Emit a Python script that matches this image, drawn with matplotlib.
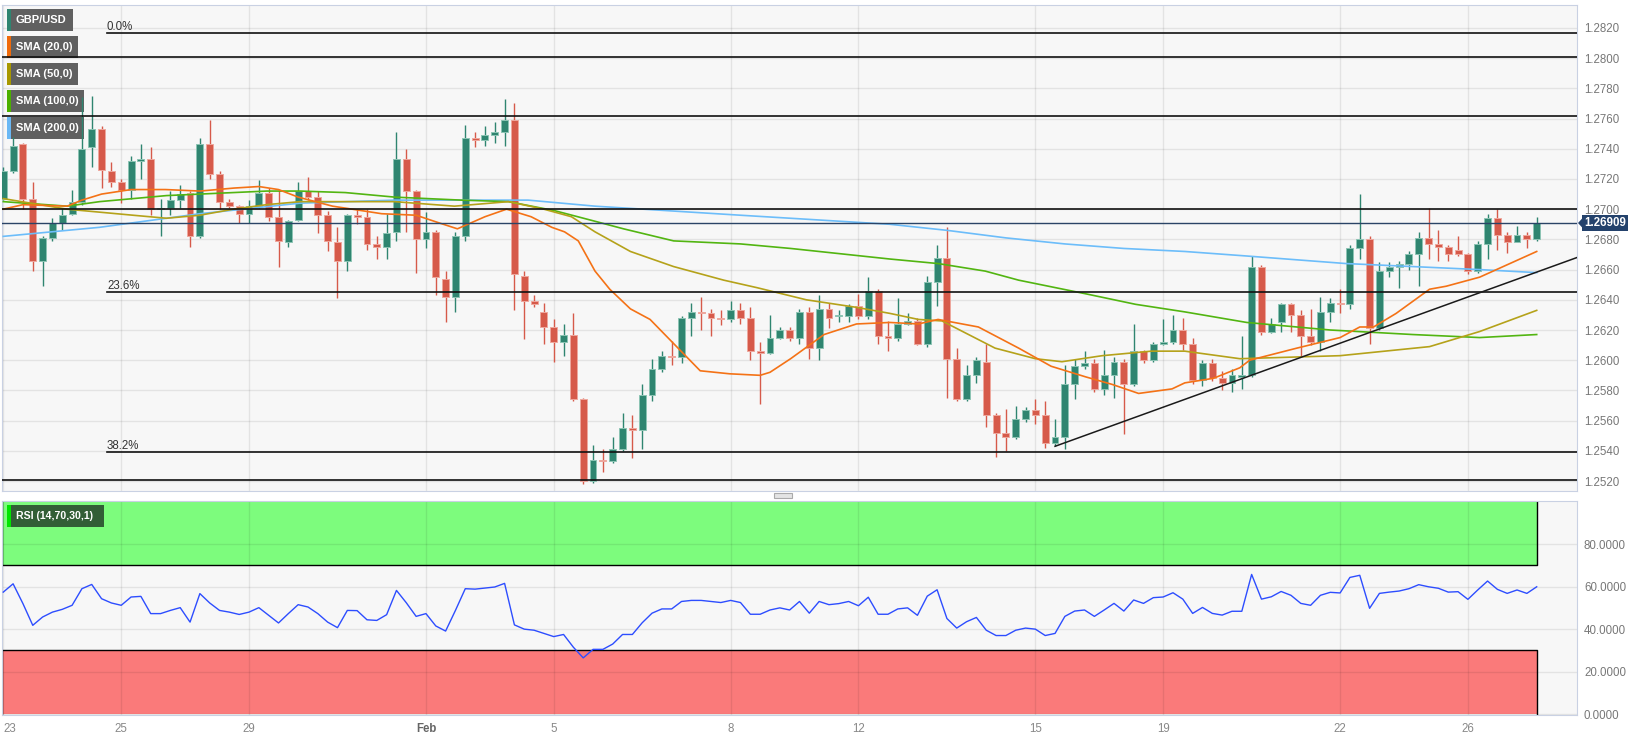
import matplotlib.pyplot as plt
from matplotlib.patches import Rectangle, Polygon

plt.rcParams["font.family"] = ["Liberation Sans", "DejaVu Sans"]

# ---- 4h candles, GBP/USD, 23 Jan -> 27 Feb ----
opens = [
    1.2707, 1.2725, 1.2743, 1.2707, 1.2666, 1.2681, 1.2691, 1.2697, 1.2705, 1.2741,
    1.2753, 1.2725, 1.2718, 1.2713, 1.2732, 1.2733, 1.2700, 1.2701, 1.2706, 1.2711,
    1.2682, 1.2743, 1.2723, 1.2705, 1.2702, 1.2697, 1.2702, 1.2711, 1.2695, 1.2678,
    1.2693, 1.2712, 1.2708, 1.2696, 1.2678, 1.2666, 1.2696, 1.2695, 1.2677, 1.2675,
    1.2685, 1.2733, 1.2712, 1.2680, 1.2685, 1.2654, 1.2642, 1.2682, 1.2747, 1.2746,
    1.2749, 1.2751, 1.2759, 1.2656, 1.2639, 1.2632, 1.2622, 1.2612, 1.2617, 1.2574,
    1.2520, 1.2534, 1.2533, 1.2541, 1.2555, 1.2554, 1.2577, 1.2594, 1.2603, 1.2602,
    1.2628, 1.2632, 1.2631, 1.2628, 1.2627, 1.2633, 1.2628, 1.2606, 1.2605, 1.2615,
    1.2620, 1.2615, 1.2632, 1.2608, 1.2634, 1.2629, 1.2629, 1.2636, 1.2629, 1.2646,
    1.2616, 1.2615, 1.2624, 1.2626, 1.2611, 1.2652, 1.2668, 1.2601, 1.2574, 1.2590,
    1.2599, 1.2564, 1.2552, 1.2549, 1.2561, 1.2567, 1.2564, 1.2545, 1.2549, 1.2584,
    1.2596, 1.2598, 1.2581, 1.2590, 1.2599, 1.2584, 1.2606, 1.2600, 1.2611, 1.2612,
    1.2620, 1.2611, 1.2587, 1.2598, 1.2588, 1.2585, 1.2589, 1.2590, 1.2662, 1.2619,
    1.2625, 1.2637, 1.2630, 1.2616, 1.2612, 1.2632, 1.2638, 1.2637, 1.2674, 1.2680,
    1.2621, 1.2659, 1.2662, 1.2664, 1.2670, 1.2681, 1.2677, 1.2675, 1.2673, 1.2670,
    1.2659, 1.2677, 1.2694, 1.2683, 1.2678, 1.2683, 1.2680,
]
highs = [
    1.2728, 1.2748, 1.2744, 1.2718, 1.2682, 1.2694, 1.2701, 1.2713, 1.2774, 1.2775,
    1.2755, 1.2731, 1.2720, 1.2735, 1.2743, 1.2741, 1.2707, 1.2712, 1.2716, 1.2712,
    1.2747, 1.2759, 1.2725, 1.2707, 1.2703, 1.2706, 1.2719, 1.2714, 1.2713, 1.2693,
    1.2718, 1.2721, 1.2712, 1.2699, 1.2688, 1.2697, 1.2700, 1.2700, 1.2682, 1.2697,
    1.2751, 1.2740, 1.2713, 1.2698, 1.2686, 1.2659, 1.2685, 1.2756, 1.2751, 1.2755,
    1.2758, 1.2773, 1.2770, 1.2659, 1.2643, 1.2638, 1.2627, 1.2624, 1.2631, 1.2575,
    1.2544, 1.2541, 1.2549, 1.2565, 1.2564, 1.2584, 1.2601, 1.2606, 1.2613, 1.2629,
    1.2638, 1.2642, 1.2634, 1.2633, 1.2639, 1.2638, 1.2635, 1.2612, 1.2630, 1.2622,
    1.2622, 1.2634, 1.2635, 1.2643, 1.2638, 1.2633, 1.2637, 1.2644, 1.2655, 1.2647,
    1.2626, 1.2641, 1.2631, 1.2628, 1.2656, 1.2676, 1.2688, 1.2608, 1.2597, 1.2602,
    1.2611, 1.2565, 1.2568, 1.2570, 1.2569, 1.2574, 1.2573, 1.2561, 1.2597, 1.2601,
    1.2606, 1.2601, 1.2607, 1.2602, 1.2601, 1.2624, 1.2607, 1.2612, 1.2627, 1.2630,
    1.2628, 1.2615, 1.2600, 1.2601, 1.2593, 1.2594, 1.2616, 1.2669, 1.2663, 1.2628,
    1.2638, 1.2638, 1.2633, 1.2634, 1.2642, 1.2641, 1.2647, 1.2676, 1.2710, 1.2682,
    1.2665, 1.2665, 1.2666, 1.2672, 1.2685, 1.2701, 1.2686, 1.2676, 1.2682, 1.2671,
    1.2679, 1.2697, 1.2700, 1.2685, 1.2689, 1.2685, 1.2695,
]
lows = [
    1.2706, 1.2724, 1.2700, 1.2659, 1.2649, 1.2679, 1.2686, 1.2696, 1.2703, 1.2728,
    1.2714, 1.2715, 1.2704, 1.2707, 1.2720, 1.2696, 1.2682, 1.2696, 1.2701, 1.2675,
    1.2681, 1.2720, 1.2700, 1.2701, 1.2691, 1.2691, 1.2701, 1.2692, 1.2662, 1.2675,
    1.2692, 1.2706, 1.2684, 1.2672, 1.2641, 1.2659, 1.2690, 1.2673, 1.2667, 1.2667,
    1.2679, 1.2685, 1.2658, 1.2674, 1.2643, 1.2625, 1.2632, 1.2679, 1.2741, 1.2742,
    1.2744, 1.2742, 1.2633, 1.2614, 1.2635, 1.2611, 1.2599, 1.2603, 1.2573, 1.2518,
    1.2519, 1.2526, 1.2532, 1.2540, 1.2535, 1.2541, 1.2573, 1.2592, 1.2597, 1.2598,
    1.2616, 1.2620, 1.2616, 1.2623, 1.2625, 1.2624, 1.2600, 1.2571, 1.2604, 1.2614,
    1.2613, 1.2611, 1.2601, 1.2600, 1.2621, 1.2625, 1.2625, 1.2627, 1.2627, 1.2611,
    1.2606, 1.2613, 1.2623, 1.2610, 1.2609, 1.2636, 1.2575, 1.2573, 1.2573, 1.2585,
    1.2556, 1.2536, 1.2540, 1.2548, 1.2559, 1.2558, 1.2542, 1.2543, 1.2541, 1.2574,
    1.2594, 1.2579, 1.2577, 1.2575, 1.2551, 1.2583, 1.2598, 1.2599, 1.2610, 1.2611,
    1.2607, 1.2584, 1.2583, 1.2586, 1.2580, 1.2579, 1.2581, 1.2589, 1.2617, 1.2618,
    1.2619, 1.2619, 1.2603, 1.2610, 1.2606, 1.2625, 1.2631, 1.2634, 1.2667, 1.2611,
    1.2620, 1.2655, 1.2648, 1.2660, 1.2649, 1.2667, 1.2666, 1.2666, 1.2669, 1.2657,
    1.2658, 1.2667, 1.2673, 1.2671, 1.2678, 1.2674, 1.2679,
]
closes = [
    1.2725, 1.2742, 1.2707, 1.2666, 1.2681, 1.2691, 1.2696, 1.2705, 1.2740, 1.2753,
    1.2726, 1.2718, 1.2713, 1.2732, 1.2733, 1.2700, 1.2701, 1.2706, 1.2710, 1.2682,
    1.2743, 1.2723, 1.2705, 1.2702, 1.2697, 1.2702, 1.2711, 1.2695, 1.2679, 1.2692,
    1.2712, 1.2708, 1.2696, 1.2679, 1.2666, 1.2696, 1.2695, 1.2677, 1.2675, 1.2684,
    1.2733, 1.2712, 1.2680, 1.2685, 1.2655, 1.2642, 1.2682, 1.2747, 1.2746, 1.2749,
    1.2751, 1.2759, 1.2657, 1.2639, 1.2637, 1.2622, 1.2612, 1.2617, 1.2574, 1.2520,
    1.2534, 1.2533, 1.2541, 1.2555, 1.2554, 1.2577, 1.2594, 1.2603, 1.2602, 1.2628,
    1.2632, 1.2631, 1.2628, 1.2627, 1.2633, 1.2628, 1.2606, 1.2605, 1.2615, 1.2620,
    1.2615, 1.2632, 1.2608, 1.2634, 1.2628, 1.2630, 1.2636, 1.2629, 1.2646, 1.2616,
    1.2615, 1.2624, 1.2626, 1.2611, 1.2652, 1.2668, 1.2601, 1.2574, 1.2590, 1.2600,
    1.2564, 1.2552, 1.2549, 1.2561, 1.2567, 1.2564, 1.2545, 1.2549, 1.2584, 1.2596,
    1.2598, 1.2581, 1.2590, 1.2599, 1.2584, 1.2606, 1.2600, 1.2611, 1.2612, 1.2620,
    1.2611, 1.2587, 1.2598, 1.2588, 1.2585, 1.2590, 1.2590, 1.2662, 1.2619, 1.2624,
    1.2637, 1.2630, 1.2616, 1.2612, 1.2632, 1.2638, 1.2637, 1.2674, 1.2680, 1.2621,
    1.2659, 1.2662, 1.2664, 1.2670, 1.2681, 1.2677, 1.2675, 1.2670, 1.2670, 1.2659,
    1.2677, 1.2694, 1.2683, 1.2678, 1.2683, 1.2680, 1.26909,
]
last_price = 1.26909

# ---- moving averages (candle index, value) ----
sma20_x = [0, 2, 6.5, 8, 10, 13, 16.5, 20, 23.5, 26, 28, 30, 33.5, 38.5, 42, 44.3, 46.2, 49,
           51.2, 53.7, 55.8, 57.1, 58.5, 60.2, 61.7, 63.8, 65.8, 68.2, 70.9, 73.9, 77, 78,
           80.1, 83.5, 86.8, 90.2, 93.1, 95.1, 99.2, 103.3, 106.6, 110.1, 112.8, 115.5,
           118.9, 120.2, 123.1, 125.8, 126.8, 131.6, 136, 138, 139.4, 141.7, 145.1, 146.8,
           150.2, 156]
sma20_y = [1.2700, 1.2703, 1.2702, 1.2706, 1.2710, 1.2713, 1.2713, 1.2712, 1.2714, 1.2715,
           1.2713, 1.2708, 1.2702, 1.2697, 1.2696, 1.2691, 1.2687, 1.2695, 1.2700, 1.2695,
           1.2688, 1.2685, 1.2679, 1.2659, 1.2647, 1.2634, 1.2627, 1.2611, 1.2593, 1.2591,
           1.2590, 1.2592, 1.2601, 1.2617, 1.2624, 1.2625, 1.2624, 1.2627, 1.2622, 1.2608,
           1.2596, 1.2589, 1.2584, 1.2578, 1.2581, 1.2585, 1.2588, 1.2595, 1.2600, 1.2608,
           1.2615, 1.2622, 1.2622, 1.2631, 1.2647, 1.2649, 1.2655, 1.2672]
sma50_x = [0, 6.5, 13.2, 16.6, 20, 23.4, 26.8, 30.2, 36.5, 39.8, 45.9, 51.4, 55, 57.8, 60.2,
           63.8, 68.2, 73.3, 76.7, 81.7, 86.8, 90.2, 93.1, 95.5, 100.9, 105, 107.7, 111.8,
           116.8, 120.2, 125.8, 136, 145.1, 150.2, 156]
sma50_y = [1.2707, 1.2700, 1.2696, 1.2694, 1.2696, 1.2700, 1.2703, 1.2705, 1.2705, 1.2705,
           1.2702, 1.2705, 1.2700, 1.2695, 1.2685, 1.2672, 1.2662, 1.2653, 1.2648, 1.2640,
           1.2635, 1.2631, 1.2627, 1.2626, 1.2608, 1.2601, 1.2599, 1.2603, 1.2606, 1.2606,
           1.2601, 1.2603, 1.2609, 1.2619, 1.2633]
sma100_x = [0, 6.5, 9.8, 16.6, 23.4, 26.8, 30.2, 34.8, 39.8, 46.6, 51.4, 56.1, 60.2, 63.1,
            68.2, 75, 80.1, 90.2, 95.1, 99.9, 103.3, 110.1, 115.2, 120.2, 126.5, 135, 143.4,
            150.2, 156]
sma100_y = [1.2705, 1.2702, 1.2705, 1.2709, 1.2711, 1.2712, 1.2712, 1.2711, 1.2708, 1.2706,
            1.2705, 1.2699, 1.2692, 1.2687, 1.2679, 1.2677, 1.2674, 1.2667, 1.2664, 1.2659,
            1.2653, 1.2644, 1.2637, 1.2632, 1.2625, 1.2620, 1.2617, 1.2615, 1.2617]
sma200_x = [0, 9.8, 20, 30.2, 39.8, 50, 53.4, 60.2, 75, 90.2, 96, 102, 108, 114, 120.2,
            126.5, 136.6, 143.4, 150.2, 156]
sma200_y = [1.2682, 1.2688, 1.2697, 1.2704, 1.2706, 1.2706, 1.2706, 1.2702, 1.2696, 1.2690,
            1.2686, 1.2681, 1.2677, 1.2674, 1.2672, 1.2669, 1.2664, 1.2662, 1.2660, 1.2658]

# ---- RSI(14) ----
rsi = [
    57.4, 61.3, 52.0, 41.8, 45.7, 48.0, 49.3, 51.2, 59.0, 61.0,
    54.3, 52.3, 51.2, 55.1, 55.4, 47.3, 47.3, 48.8, 50.1, 43.3,
    56.7, 52.3, 48.8, 48.0, 46.9, 48.0, 50.1, 46.5, 42.9, 47.3,
    51.5, 50.4, 47.3, 43.3, 40.7, 48.8, 48.7, 44.4, 44.1, 46.8,
    58.2, 52.4, 46.0, 47.3, 41.5, 39.1, 48.8, 59.0, 58.8, 59.3,
    59.8, 61.5, 42.0, 40.0, 39.5, 38.0, 36.5, 37.5, 31.5, 26.5,
    30.5, 30.5, 33.0, 37.5, 37.5, 43.0, 47.5, 49.5, 49.5, 53.0,
    53.5, 53.5, 53.0, 52.5, 53.5, 52.5, 47.0, 47.0, 49.0, 50.0,
    49.0, 53.0, 47.5, 53.0, 51.5, 52.0, 53.0, 51.0, 55.0, 47.0,
    47.0, 49.5, 50.0, 46.5, 55.5, 58.5, 45.0, 40.5, 43.5, 45.5,
    39.5, 37.0, 37.0, 39.5, 40.5, 40.0, 37.0, 38.0, 46.0, 48.5,
    49.0, 46.0, 49.0, 52.1, 48.5, 53.7, 52.1, 54.8, 55.1, 57.1,
    54.1, 47.4, 50.2, 47.4, 46.6, 48.4, 48.4, 65.7, 54.1, 55.2,
    57.7, 55.9, 52.1, 51.2, 55.9, 57.3, 57.0, 64.3, 65.3, 49.8,
    56.8, 57.4, 57.9, 59.0, 60.9, 59.9, 59.2, 57.4, 57.6, 54.0,
    58.4, 62.6, 58.7, 56.8, 58.4, 56.8, 59.9,
]

# ---- drawn levels ----
fib_levels = [1.28165, 1.2645, 1.2539]
fib_labels = ["0.0%", "23.6%", "38.2%"]
sr_levels = [1.2801, 1.27615, 1.2700, 1.25207]
trend_x = [107, 160.1]
trend_y = [1.2543, 1.2668]

date_pos = [0, 12, 25, 43, 56, 74, 87, 105, 118, 136, 149]
date_labels = ["23", "25", "29", "Feb", "5", "8", "12", "15", "19", "22", "26"]
price_ticks = [1.2520, 1.2540, 1.2560, 1.2580, 1.2600, 1.2620, 1.2640, 1.2660,
               1.2680, 1.2700, 1.2720, 1.2740, 1.2760, 1.2780, 1.2800, 1.2820]
rsi_ticks = [0, 20, 40, 60, 80]

GREEN = "#2f8570"
RED = "#d65a4a"
W, H = 1636, 745
X0, X1 = -0.13, 160.1

fig = plt.figure(figsize=(W / 100, H / 100), dpi=100, facecolor="white")


def fig_box(x0, y0, x1, y1):
    return [x0 / W, 1 - y1 / H, (x1 - x0) / W, (y1 - y0) / H]


ax = fig.add_axes(fig_box(2, 5, 1577, 491))
rsi_ax = fig.add_axes(fig_box(2, 501, 1577, 715))

for a in (ax, rsi_ax):
    a.set_facecolor("#f7f7f7")
    for s in a.spines.values():
        s.set_color("#c9d1e3")
    a.set_xlim(X0, X1)
    a.set_xticks(date_pos)
    a.grid(True, color="black", alpha=0.08, lw=1)
    a.yaxis.tick_right()
    a.tick_params(length=0, labelsize=8.3, labelcolor="#777777", pad=5)

# --- price panel ---
ax.set_ylim(1.25134, 1.28352)
ax.set_yticks(price_ticks)
ax.set_yticklabels([f"{v:.4f}" for v in price_ticks])
ax.tick_params(axis="x", labelbottom=False)

idx = list(range(len(opens)))
cols = [GREEN if c >= o else RED for o, c in zip(opens, closes)]
edges = ["#8cc4b4" if c >= o else "#eea79d" for o, c in zip(opens, closes)]
bottoms = [min(o, c) for o, c in zip(opens, closes)]
heights = [max(abs(c - o), 0.00004) for o, c in zip(opens, closes)]
ax.vlines(idx, lows, highs, colors=cols, lw=1, zorder=3)
ax.bar(idx, heights, bottom=bottoms, width=0.7, color=cols, edgecolor=edges, lw=0.7, zorder=4)

ax.plot(sma200_x, sma200_y, color="#6cbdfa", lw=1.2, zorder=5)
ax.plot(sma100_x, sma100_y, color="#52b511", lw=1.2, zorder=5)
ax.plot(sma50_x, sma50_y, color="#b5a21a", lw=1.2, zorder=5)
ax.plot(sma20_x, sma20_y, color="#f47216", lw=1.2, zorder=5)

for lvl in sr_levels:
    ax.axhline(lvl, color="#111111", lw=1.2, zorder=6)
for lvl, lab in zip(fib_levels, fib_labels):
    ax.plot([10.55, X1], [lvl, lvl], color="#111111", lw=1.2, zorder=6)
    ax.text(10.55, lvl + 0.00004, lab, fontsize=8.3, color="#333333", va="bottom", ha="left", zorder=6)

ax.plot(trend_x, trend_y, color="#1a1a1a", lw=1.1, zorder=6)
ax.axhline(last_price, color="#2a4466", lw=1, zorder=6)

# current price tag
fig.text(1605 / W, 1 - 223 / H, f"{last_price:.5f}", ha="center", va="center", color="white",
         fontsize=8.3, fontweight="bold",
         bbox=dict(boxstyle="square,pad=0.2", fc="#24426c", ec="none"))
fig.add_artist(Polygon([(1578 / W, 1 - 223 / H), (1584 / W, 1 - 216.5 / H), (1584 / W, 1 - 229.5 / H)],
                       closed=True, transform=fig.transFigure, fc="#24426c", ec="none"))


def legend_tag(axis, x0, y0, x1, y1, stripe, text, face, size=8):
    axis.add_patch(Rectangle((x0 / W, 1 - y1 / H), (x1 - x0) / W, (y1 - y0) / H,
                             transform=fig.transFigure, fc=face, ec="none", zorder=2.2, clip_on=False))
    axis.add_patch(Rectangle((x0 / W, 1 - y1 / H), 3.5 / W, (y1 - y0) / H,
                             transform=fig.transFigure, fc=stripe, ec="none", zorder=2.3, clip_on=False))
    axis.text((x0 + 9) / W, 1 - (y0 + y1) / 2 / H, text, transform=fig.transFigure, color="white",
              fontsize=size, fontweight="bold", va="center", ha="left", zorder=2.4)


legend_tag(ax, 7, 9, 73, 31, GREEN, "GBP/USD", "#606060")
legend_tag(ax, 7, 36, 78, 58, "#f06a0a", "SMA (20,0)", "#606060")
legend_tag(ax, 7, 63, 78, 85, "#a89800", "SMA (50,0)", "#606060")
legend_tag(ax, 7, 90, 84, 112, "#4bb000", "SMA (100,0)", "#606060")
legend_tag(ax, 7, 117, 84, 139, "#6ab8f5", "SMA (200,0)", "#606060")

# --- RSI panel ---
rsi_ax.set_ylim(-0.33, 100.2)
rsi_ax.set_yticks(rsi_ticks)
rsi_ax.set_yticklabels([f"{v:.4f}" for v in rsi_ticks])
rsi_ax.add_patch(Rectangle((X0, 70), 156 - X0, 29.5, fc="#7dfc7d", ec="none", zorder=0.5))
rsi_ax.add_patch(Rectangle((X0, 0), 156 - X0, 30, fc="#fa7a7a", ec="none", zorder=0.5))
rsi_ax.plot([X0, X0, 156, 156], [99.5, 70, 70, 99.5], color="black", lw=1, zorder=2)
rsi_ax.plot([X0, X0, 156, 156], [0, 30, 30, 0], color="black", lw=1, zorder=2)
rsi_ax.plot(idx, rsi, color="#2d4dff", lw=1, zorder=3)
legend_tag(rsi_ax, 7, 505, 104, 527, "#00e600", "RSI (14,70,30,1)", "#325e36", size=7.6)

rsi_ax.set_xticklabels(date_labels)
rsi_ax.tick_params(axis="x", pad=6, labelcolor="#888888")
tl = rsi_ax.get_xticklabels()
tl[0].set_ha("left")
tl[3].set_fontweight("bold")
tl[3].set_color("#666666")

# panel splitter grip
fig.add_artist(Rectangle((774 / W, 1 - 498 / H), 18 / W, 5 / H, transform=fig.transFigure,
                         fc="#e4e4e4", ec="#aaaaaa", lw=0.8))

fig.savefig("out.png", dpi=100, facecolor="white")
